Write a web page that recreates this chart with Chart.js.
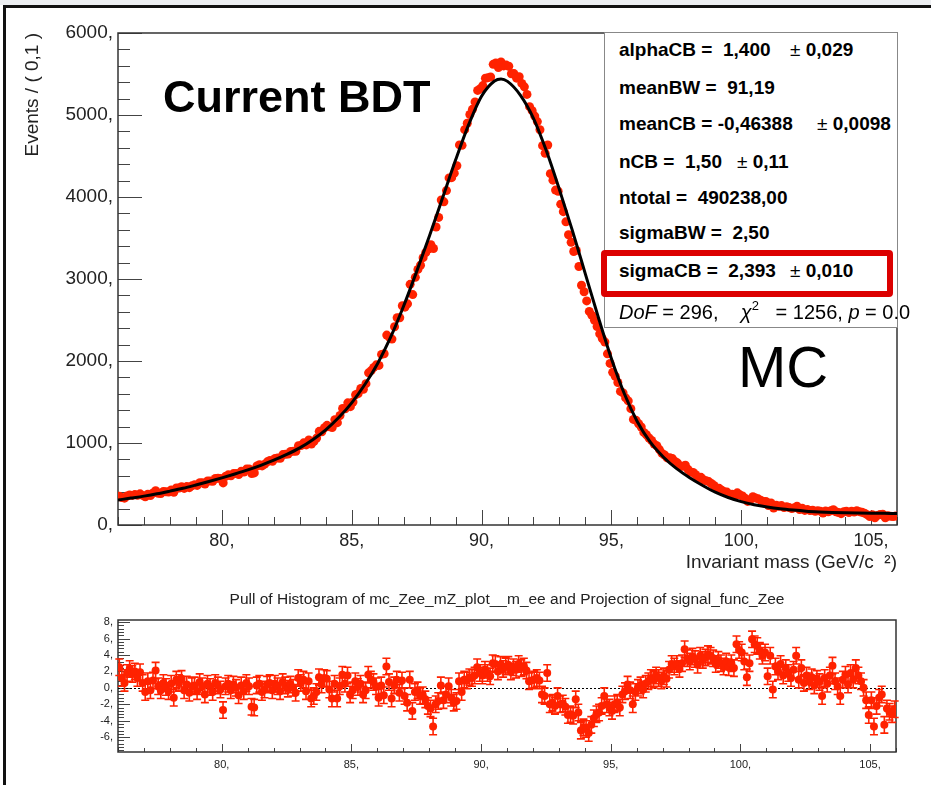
<!DOCTYPE html>
<html>
<head>
<meta charset="utf-8">
<script src="https://cdn.jsdelivr.net/npm/chart.js@4.4.0/dist/chart.umd.min.js"></script>
<style>
  body { margin:0; width:931px; height:785px; background:#fff; position:relative; overflow:hidden;
         font-family:'Liberation Sans', Arial, Helvetica, sans-serif; }
  canvas { position:absolute; left:0; }
  #topCanvas { top:0; }
  #pullCanvas { top:590px; }
  #strip { position:absolute; left:0; top:0; width:931px; height:5px; background:#eceef1; }
  #edgeTop { position:absolute; left:3px; top:5px; width:928px; height:2.5px; background:#111; }
  #edgeLeft { position:absolute; left:3px; top:5px; width:2.5px; height:780px; background:#111; }
  .note { position:absolute; white-space:pre; color:#000; }
  .bdt { left:163px; top:74px; font-size:45px; line-height:45px; font-weight:bold; }
  .mc { left:738px; top:338px; font-size:58px; line-height:58px; }
  #stats { position:absolute; left:604px; top:32px; width:292px; height:294px; border:1px solid #888; background:#fff; }
  .row { position:absolute; left:619px; font-size:19px; line-height:22px; font-weight:bold; white-space:pre; color:#000; }
  .err { position:absolute; font-size:19px; line-height:22px; font-weight:bold; white-space:pre; color:#000; }
  .pm { font-weight:normal; }
  .dof { position:absolute; left:619px; top:301px; font-size:20px; line-height:22px; white-space:pre; color:#000; }
  .sq { position:relative; top:-9px; font-size:13px; }
  #redBox { position:absolute; left:601px; top:250px; width:292px; height:47px; box-sizing:border-box;
            border:6px solid #dc0000; border-radius:4px; }
</style>
</head>
<body>
<div id="strip"></div>
<canvas id="topCanvas" width="931" height="590"></canvas>
<canvas id="pullCanvas" width="931" height="195"></canvas>
<div id="edgeTop"></div>
<div id="edgeLeft"></div>

<div class="note bdt">Current BDT</div>
<div class="note mc">MC</div>

<div id="stats"></div>
<div class="row" style="top:39px">alphaCB =  1,400</div>
<div class="err" style="left:790px; top:39px"><span class="pm">±</span> 0,029</div>
<div class="row" style="top:77px">meanBW =  91,19</div>
<div class="row" style="top:113px">meanCB = -0,46388</div>
<div class="err" style="left:817px; top:113px"><span class="pm">±</span> 0,0098</div>
<div class="row" style="top:151px">nCB =  1,50</div>
<div class="err" style="left:737px; top:151px"><span class="pm">±</span> 0,11</div>
<div class="row" style="top:187px">ntotal =  490238,00</div>
<div class="row" style="top:222px">sigmaBW =  2,50</div>
<div class="row" style="top:260px">sigmaCB =  2,393</div>
<div class="err" style="left:790px; top:260px"><span class="pm">±</span> 0,010</div>
<div class="dof"><i>DoF</i> = 296,    <i>χ</i><span class="sq">2</span>   = 1256, <i>p</i> = 0.0</div>
<div id="redBox"></div>

<script>
/* ---------- data ---------- */
const massTicks  = [80, 85, 90, 95, 100, 105];
const eventTicks = [0, 1000, 2000, 3000, 4000, 5000, 6000];
const pullTicks  = [-6, -4, -2, 0, 2, 4, 6, 8];

// histogram: 300 bins of 0.1 GeV between 76 and 106
const massBins = Array.from({length: 300}, (_, i) => +(76.05 + i * 0.1).toFixed(2));

const events = [
  352, 334, 327, 353, 367, 361, 371, 362, 380, 361,
  345, 376, 360, 390, 418, 387, 384, 408, 405, 402,
  427, 398, 451, 450, 467, 446, 468, 455, 480, 490,
  483, 516, 514, 499, 538, 537, 533, 567, 569, 566,
  513, 594, 612, 600, 627, 627, 615, 655, 647, 682,
  683, 627, 635, 719, 736, 721, 742, 770, 787, 776,
  812, 817, 813, 859, 862, 865, 896, 900, 899, 967,
  969, 1002, 977, 1036, 988, 1020, 1060, 1142, 1137, 1186,
  1215, 1198, 1188, 1283, 1248, 1335, 1422, 1418, 1490, 1443,
  1500, 1589, 1604, 1665, 1655, 1724, 1856, 1883, 1922, 1953,
  1946, 2080, 2088, 2316, 2291, 2267, 2418, 2527, 2528, 2674,
  2657, 2697, 2935, 2810, 3020, 3117, 3167, 3260, 3321, 3365,
  3418, 3372, 3634, 3751, 3963, 3941, 4078, 4233, 4236, 4291,
  4381, 4635, 4630, 4821, 4900, 5006, 5069, 5160, 5300, 5321,
  5359, 5448, 5455, 5463, 5618, 5635, 5579, 5646, 5599, 5609,
  5595, 5503, 5505, 5449, 5466, 5385, 5343, 5251, 5102, 5053,
  4987, 4920, 4820, 4626, 4533, 4634, 4285, 4205, 4084, 4070,
  3913, 3821, 3697, 3540, 3447, 3335, 3349, 3152, 2924, 2845,
  2733, 2605, 2557, 2497, 2420, 2331, 2273, 2232, 2087, 1971,
  1862, 1814, 1738, 1629, 1611, 1550, 1513, 1419, 1288, 1276,
  1235, 1195, 1129, 1101, 1061, 1030, 987, 966, 920, 874,
  854, 818, 820, 810, 774, 755, 716, 716, 729, 679,
  646, 640, 613, 576, 581, 551, 539, 529, 506, 482,
  452, 447, 425, 404, 401, 375, 374, 352, 392, 368,
  353, 327, 288, 307, 346, 328, 319, 303, 288, 287,
  238, 268, 206, 241, 228, 237, 214, 224, 212, 201,
  210, 229, 188, 204, 178, 188, 176, 181, 167, 175,
  169, 146, 172, 162, 173, 186, 162, 153, 138, 161,
  167, 152, 169, 158, 175, 163, 155, 144, 126, 103,
  125, 87, 117, 128, 132, 88, 112, 106, 103, 110
];

// fitted signal_func_Zee, read at a few masses
const fitMass = [76, 76.5, 77, 77.5, 78, 78.5, 79, 79.5, 80, 80.5, 81, 81.5, 82, 82.5, 83, 83.5,
  84, 84.5, 85, 85.5, 86, 86.5, 87, 87.5, 88, 88.5, 89, 89.5, 90, 90.5, 90.75, 91, 91.5, 92,
  92.5, 93, 93.5, 94, 94.5, 95, 95.5, 96, 96.5, 97, 97.5, 98, 98.5, 99, 99.5, 100, 100.5, 101,
  101.5, 102, 102.5, 103, 103.5, 104, 104.5, 105, 105.5, 106];
const fitEvents = [305, 328, 352, 380, 413, 448, 488, 530, 575, 622, 672, 728, 790, 860, 940, 1040,
  1160, 1310, 1490, 1710, 1970, 2290, 2670, 3090, 3530, 3990, 4450, 4880, 5230, 5415, 5440, 5410, 5240, 4960,
  4560, 4090, 3590, 3060, 2530, 2030, 1600, 1260, 1010, 830, 690, 580, 485, 400, 335, 285, 248, 220,
  198, 182, 169, 160, 153, 148, 145, 143, 142, 141];

const pulls = [
  2.5, 1.2, 0.6, 1.8, 2.3, 1.7, 2.0, 1.2, 1.9, 0.6,
  -0.5, 0.8, -0.3, 0.9, 2.1, 0.2, -0.3, 0.6, 0.1, -0.4,
  0.5, -1.2, 1.0, 0.6, 1.1, -0.3, 0.4, -0.6, 0.2, 0.3,
  -0.4, 0.7, 0.2, -0.8, 0.5, 0.1, -0.5, 0.6, 0.3, -0.2,
  -2.7, 0.2, 0.5, -0.3, 0.4, 0.0, -0.9, 0.3, -0.4, 0.6,
  0.2, -2.3, -2.4, 0.3, 0.5, -0.5, -0.2, 0.4, 0.6, -0.3,
  0.5, 0.2, -0.4, 0.7, 0.3, -0.1, 0.4, 0.0, -0.6, 1.2,
  0.6, 1.0, -0.4, 0.8, -1.3, -1.0, -0.5, 1.3, 0.4, 1.2,
  1.1, -0.2, -1.3, 0.5, -1.3, 0.2, 1.6, 0.5, 1.5, -0.8,
  -0.3, 0.8, 0.1, 0.5, -0.8, -0.3, 1.6, 1.0, 0.7, 0.2,
  -1.2, 0.3, -0.9, 2.6, 0.7, -1.3, 0.3, 1.0, -0.6, 0.9,
  -1.0, -1.8, 1.0, -2.8, -0.5, -0.3, -1.0, -0.9, -1.4, -2.2,
  -2.5, -4.7, -2.0, -1.6, 0.3, -1.5, -0.8, 0.2, -1.2, -1.8,
  -1.6, 0.8, -0.5, 1.0, 0.9, 1.3, 1.2, 1.5, 2.5, 1.8,
  1.5, 2.2, 1.8, 1.4, 3.0, 2.9, 2.0, 2.8, 2.3, 2.6,
  2.8, 2.0, 2.5, 2.2, 2.9, 2.4, 2.6, 2.1, 0.8, 0.9,
  1.0, 1.2, 0.9, -0.8, -1.0, 1.8, -2.0, -1.8, -2.2, -1.0,
  -2.0, -1.9, -2.3, -3.3, -3.2, -3.4, -1.4, -3.0, -5.2, -4.8,
  -5.0, -5.5, -4.5, -3.7, -3.2, -3.0, -2.2, -1.0, -2.0, -2.4,
  -2.8, -2.0, -1.8, -2.4, -0.8, -0.4, 0.4, -0.3, -2.0, -0.5,
  0.0, 0.3, -0.2, 0.5, 0.8, 1.2, 1.0, 1.5, 1.2, 0.9,
  1.4, 1.1, 2.2, 2.9, 2.6, 2.9, 2.3, 3.0, 4.7, 3.6,
  3.2, 3.8, 3.5, 2.8, 3.9, 3.4, 3.7, 4.1, 3.9, 3.6,
  2.9, 3.4, 3.0, 2.6, 3.2, 2.5, 3.0, 2.4, 5.3, 4.6,
  4.3, 3.2, 1.3, 3.0, 5.9, 5.3, 5.1, 4.5, 3.9, 4.3,
  1.4, 3.9, -0.2, 2.6, 2.0, 2.9, 1.5, 2.4, 1.8, 1.2,
  2.2, 3.9, 1.0, 2.4, 0.6, 1.5, 0.8, 1.3, 0.3, 1.1,
  0.7, -1.0, 1.2, 0.5, 1.5, 2.7, 0.8, 0.2, -1.0, 1.0,
  1.6, 0.4, 1.8, 1.0, 2.4, 1.5, 0.8, 0.0, -1.5, -3.3,
  -1.5, -4.7, -2.2, -1.2, -0.8, -4.5, -2.5, -2.9, -3.2, -2.6
];
const PULL_ERR = 1;   // pulls have unit error

/* ---------- look ---------- */
const FONT = "'Liberation Sans', Arial, Helvetica, sans-serif";
const RED = '#ff2200';
const INK = '#222';

/* ROOT style frame: box + ticks pointing into the pad */
const rootFrame = {
  id: 'rootFrame',
  beforeDatasetsDraw(chart, args, o) {
    const {ctx, chartArea: a, scales: {x, y}} = chart;
    const isMajor = (v, step) => Math.abs(v / step - Math.round(v / step)) < 1e-6;
    ctx.save();
    ctx.strokeStyle = '#444';
    ctx.lineWidth = 1;
    ctx.beginPath();
    for (let v = Math.ceil(y.min / o.yMinor - 1e-9) * o.yMinor; v <= y.max + 1e-9; v += o.yMinor) {
      const py = Math.round(y.getPixelForValue(v)) + 0.5;
      const len = isMajor(v, o.yMajor) ? o.yLen[0] : o.yLen[1];
      ctx.moveTo(a.left, py); ctx.lineTo(a.left + len, py);
    }
    for (let v = Math.ceil(x.min / o.xMinor - 1e-9) * o.xMinor; v <= x.max + 1e-9; v += o.xMinor) {
      const px = Math.round(x.getPixelForValue(v)) + 0.5;
      const len = isMajor(v, o.xMajor) ? o.xLen[0] : o.xLen[1];
      ctx.moveTo(px, a.bottom); ctx.lineTo(px, a.bottom - len);
    }
    ctx.stroke();
    ctx.strokeStyle = '#333';
    ctx.lineWidth = 1.5;
    ctx.strokeRect(a.left, a.top, a.right - a.left, a.bottom - a.top);
    ctx.restore();
  }
};

/* error bars and the dotted zero line of the pull pad */
const pullDecor = {
  id: 'pullDecor',
  beforeDatasetsDraw(chart) {
    const {ctx, chartArea: a, scales: {x, y}} = chart;
    ctx.save();
    ctx.strokeStyle = '#000';
    ctx.lineWidth = 1;
    ctx.setLineDash([2, 2]);
    const y0 = Math.round(y.getPixelForValue(0)) + 0.5;
    ctx.beginPath(); ctx.moveTo(a.left, y0); ctx.lineTo(a.right, y0); ctx.stroke();
    ctx.setLineDash([]);
    ctx.strokeStyle = RED;
    ctx.lineWidth = 1.6;
    ctx.beginPath();
    pulls.forEach((p, i) => {
      const px = x.getPixelForValue(massBins[i]);
      const hi = y.getPixelForValue(p + PULL_ERR), lo = y.getPixelForValue(p - PULL_ERR);
      ctx.moveTo(px, hi); ctx.lineTo(px, lo);
      ctx.moveTo(px - 4, hi); ctx.lineTo(px + 4, hi);
      ctx.moveTo(px - 4, lo); ctx.lineTo(px + 4, lo);
    });
    ctx.stroke();
    ctx.restore();
  }
};

const fixedTicks = list => scale => { scale.ticks = list.map(v => ({value: v})); };
const comma = v => v + ',';

/* ---------- main pad ---------- */
new Chart(document.getElementById('topCanvas'), {
  type: 'scatter',
  data: {
    datasets: [
      {
        label: 'signal_func_Zee',
        data: fitMass.map((m, i) => ({x: m, y: fitEvents[i]})),
        showLine: true, borderColor: '#000', borderWidth: 3, pointRadius: 0,
        cubicInterpolationMode: 'monotone'
      },
      {
        label: 'mc_Zee_mZ_plot__m_ee',
        data: massBins.map((m, i) => ({x: m, y: events[i]})),
        pointRadius: 4.5, pointBackgroundColor: RED, pointBorderWidth: 0
      }
    ]
  },
  options: {
    responsive: false, animation: false, devicePixelRatio: 1,
    layout: {padding: {top: 33, right: 34, left: 0, bottom: 0}},
    plugins: {
      legend: {display: false}, tooltip: {enabled: false},
      rootFrame: {yMajor: 1000, yMinor: 200, yLen: [24, 12], xMajor: 5, xMinor: 1, xLen: [15, 8]}
    },
    scales: {
      x: {
        type: 'linear', min: 76, max: 106,
        grid: {display: false, drawTicks: false}, border: {display: false},
        afterBuildTicks: fixedTicks(massTicks),
        afterFit: s => { s.height = 65; },
        ticks: {callback: comma, font: {family: FONT, size: 18}, color: INK, padding: 5, maxRotation: 0, autoSkip: false},
        title: {display: true, text: 'Invariant mass (GeV/c  ²)', align: 'end', color: INK,
                font: {family: FONT, size: 19}, padding: {top: 0, bottom: 15.5}}
      },
      y: {
        type: 'linear', min: 0, max: 6000,
        grid: {display: false, drawTicks: false}, border: {display: false},
        afterBuildTicks: fixedTicks(eventTicks),
        afterFit: s => { s.width = 118; },
        ticks: {callback: comma, font: {family: FONT, size: 19}, color: INK, padding: 5, autoSkip: false},
        title: {display: true, text: 'Events / ( 0,1 )', align: 'end', color: INK,
                font: {family: FONT, size: 19}, padding: {top: 21.5, bottom: 0}}
      }
    }
  },
  plugins: [rootFrame]
});

/* ---------- pull pad ---------- */
new Chart(document.getElementById('pullCanvas'), {
  type: 'scatter',
  data: {
    datasets: [{
      label: 'pull',
      data: massBins.map((m, i) => ({x: m, y: pulls[i]})),
      pointRadius: 4, pointBackgroundColor: RED, pointBorderWidth: 0
    }]
  },
  options: {
    responsive: false, animation: false, devicePixelRatio: 1,
    layout: {padding: {top: 0, right: 35, left: 0, bottom: 0}},
    plugins: {
      legend: {display: false}, tooltip: {enabled: false},
      title: {display: true, fullSize: false, color: INK,
              text: 'Pull of Histogram of mc_Zee_mZ_plot__m_ee and Projection of signal_func_Zee',
              font: {family: FONT, size: 15.5, weight: 'normal'}, padding: {top: 0, bottom: 11.4}},
      rootFrame: {yMajor: 2, yMinor: 0.4, yLen: [12, 6], xMajor: 5, xMinor: 1, xLen: [8, 4]}
    },
    scales: {
      x: {
        type: 'linear', min: 76, max: 106,
        grid: {display: false, drawTicks: false}, border: {display: false},
        afterBuildTicks: fixedTicks(massTicks),
        afterFit: s => { s.height = 33; },
        ticks: {callback: comma, font: {family: FONT, size: 11}, color: INK, padding: 6, maxRotation: 0, autoSkip: false}
      },
      y: {
        type: 'linear', min: -7.8, max: 8.25,
        grid: {display: false, drawTicks: false}, border: {display: false},
        afterBuildTicks: fixedTicks(pullTicks),
        afterFit: s => { s.width = 118; },
        ticks: {callback: comma, font: {family: FONT, size: 11}, color: INK, padding: 5, autoSkip: false}
      }
    }
  },
  plugins: [rootFrame, pullDecor]
});
</script>
</body>
</html>
